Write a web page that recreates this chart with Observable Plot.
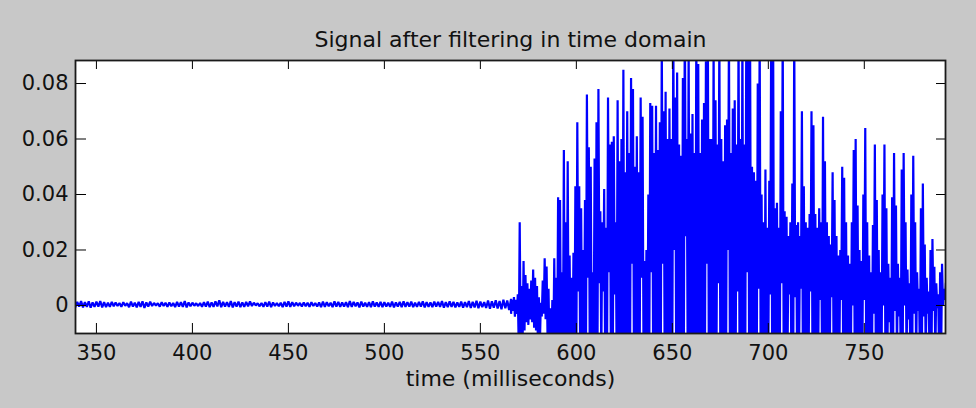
<!DOCTYPE html>
<html><head><meta charset="utf-8">
<script src="https://cdn.jsdelivr.net/npm/d3@7"></script>
<script src="https://cdn.jsdelivr.net/npm/@observablehq/plot@0.6"></script>
<style>
html,body{margin:0;padding:0;background:#c8c8c8;}
#chart{width:976px;height:408px;}
</style></head><body><div id="chart"></div>
<script>
const title = "Signal after filtering in time domain";
const xLabel = "time (milliseconds)";
const xTicks = [350, 400, 450, 500, 550, 600, 650, 700, 750];
const yTicks = [0, 0.02, 0.04, 0.06, 0.08];
const yTickLabels = ["0", "0.02", "0.04", "0.06", "0.08"];
const xDomain = [339.1, 792.3];
const yDomain = [-0.0101, 0.0883];

// quiet part: min / max of the signal in 2 ms bins, starting at 339 ms
const quietStart = 339, quietStep = 2;
const quietMax = [
0.0013,0.0016,0.0012,0.0015,0.0011,0.0014,0.0016,0.0012,0.0010,0.0013,
0.0011,0.0009,0.0012,0.0008,0.0014,0.0010,0.0013,0.0015,0.0011,0.0014,
0.0009,0.0008,0.0012,0.0010,0.0011,0.0009,0.0013,0.0012,0.0016,0.0011,
0.0010,0.0008,0.0009,0.0012,0.0014,0.0011,0.0015,0.0019,0.0013,0.0012,
0.0016,0.0012,0.0014,0.0011,0.0013,0.0015,0.0010,0.0008,0.0009,0.0012,
0.0014,0.0011,0.0009,0.0010,0.0013,0.0015,0.0012,0.0010,0.0009,0.0011,
0.0010,0.0012,0.0009,0.0011,0.0014,0.0012,0.0010,0.0015,0.0013,0.0011,
0.0012,0.0016,0.0013,0.0011,0.0014,0.0010,0.0012,0.0015,0.0011,0.0013,
0.0012,0.0010,0.0014,0.0011,0.0013,0.0015,0.0012,0.0014,0.0010,0.0013,
0.0015,0.0012,0.0011,0.0014,0.0013,0.0016,0.0012,0.0015,0.0013,0.0011,
0.0014,0.0012,0.0016,0.0013,0.0017,0.0014,0.0012,0.0018,0.0015,0.0019,
0.0016,0.0021,0.0018,0.0024];
const quietMin = [
-0.0006,-0.0004,-0.0007,-0.0005,-0.0008,-0.0005,-0.0004,-0.0007,-0.0006,-0.0005,
-0.0003,-0.0002,-0.0005,-0.0001,-0.0006,-0.0004,-0.0007,-0.0005,-0.0009,-0.0004,
-0.0002,0.0000,-0.0004,-0.0002,-0.0005,-0.0003,-0.0006,-0.0004,-0.0005,-0.0007,
-0.0003,-0.0001,-0.0002,-0.0005,-0.0004,-0.0006,-0.0005,-0.0003,-0.0006,-0.0004,
-0.0005,-0.0007,-0.0004,-0.0006,-0.0005,-0.0003,-0.0002,0.0000,-0.0003,-0.0005,
-0.0004,-0.0006,-0.0002,-0.0003,-0.0006,-0.0004,-0.0005,-0.0003,-0.0001,-0.0004,
-0.0003,-0.0005,-0.0002,-0.0004,-0.0006,-0.0005,-0.0003,-0.0006,-0.0004,-0.0005,
-0.0004,-0.0006,-0.0005,-0.0003,-0.0007,-0.0004,-0.0005,-0.0006,-0.0004,-0.0005,
-0.0006,-0.0004,-0.0005,-0.0007,-0.0004,-0.0006,-0.0005,-0.0004,-0.0006,-0.0005,
-0.0004,-0.0007,-0.0005,-0.0006,-0.0004,-0.0005,-0.0008,-0.0006,-0.0005,-0.0007,
-0.0005,-0.0008,-0.0006,-0.0009,-0.0007,-0.0010,-0.0006,-0.0009,-0.0012,-0.0008,
-0.0011,-0.0014,-0.0010,-0.0016];

// voiced part: min / max of the signal in 1 ms bins, starting at 566 ms
const activeStart = 566, activeStep = 1;
const activeMax = [
0.002,0.003,0.002,0.004,0.030,0.007,0.016,0.011,0.008,0.006,
0.009,0.013,0.010,0.007,0.003,0.001,0.009,0.017,0.014,0.006,
-0.001,0.002,0.017,0.010,0.039,0.038,0.012,0.056,0.030,0.052,
0.018,0.010,0.019,0.043,0.066,0.043,0.035,0.020,0.038,0.076,
0.057,0.050,0.012,0.053,0.066,0.078,0.034,0.030,0.042,0.028,
0.075,0.058,0.059,0.061,0.030,0.074,0.052,0.060,0.085,0.048,
0.070,0.055,0.082,0.078,0.050,0.061,0.048,0.075,0.068,0.016,
0.020,0.040,0.073,0.072,0.055,0.072,0.056,0.066,0.095,0.070,
0.077,0.060,0.071,0.060,0.100,0.075,0.084,0.058,0.054,0.082,
0.110,0.060,0.095,0.062,0.069,0.055,0.100,0.087,0.055,0.067,
0.073,0.088,0.100,0.060,0.060,0.095,0.074,0.058,0.100,0.060,
0.052,0.065,0.067,0.100,0.055,0.071,0.074,0.058,0.100,0.060,
0.100,0.058,0.095,0.100,0.098,0.050,0.048,0.045,0.080,0.100,
0.040,0.030,0.049,0.028,0.045,0.100,0.100,0.035,0.037,0.028,
0.070,0.100,0.034,0.032,0.025,0.030,0.044,0.100,0.029,0.030,
0.025,0.070,0.043,0.030,0.028,0.033,0.070,0.065,0.033,0.028,
0.035,0.030,0.068,0.052,0.030,0.025,0.022,0.048,0.038,0.025,
0.018,0.020,0.050,0.046,0.030,0.018,0.015,0.030,0.056,0.060,
0.036,0.020,0.016,0.040,0.064,0.030,0.018,0.012,0.029,0.058,
0.038,0.020,0.012,0.040,0.058,0.035,0.015,0.010,0.039,0.055,
0.036,0.015,0.010,0.049,0.055,0.030,0.013,0.008,0.040,0.054,
0.030,0.012,0.006,0.035,0.044,0.022,0.010,0.005,0.020,0.024,
0.014,0.008,0.004,0.012,0.015,0.006,0.008];
const activeMin = [
-0.003,-0.002,-0.004,-0.003,-0.015,-0.015,-0.013,-0.009,-0.006,-0.007,
-0.005,-0.006,-0.008,-0.009,-0.015,-0.014,-0.004,-0.003,-0.005,-0.011,
-0.016,-0.015,-0.016,-0.02,-0.02,-0.02,-0.02,-0.02,-0.02,-0.02,
-0.02,-0.02,-0.02,-0.02,-0.02,0.005,-0.02,-0.02,-0.02,-0.02,
0.010,-0.02,-0.02,-0.02,-0.02,-0.02,0.008,-0.02,0.005,-0.02,
-0.02,0.012,-0.02,-0.02,0.004,-0.02,-0.02,-0.02,-0.02,-0.02,
-0.02,-0.02,-0.02,0.015,-0.02,-0.02,-0.02,-0.02,0.010,-0.02,
-0.02,-0.02,-0.02,0.012,-0.02,-0.02,-0.02,-0.02,-0.02,0.015,
-0.02,-0.02,-0.02,-0.02,-0.02,0.020,-0.02,-0.02,-0.02,-0.02,
-0.02,0.025,-0.02,-0.02,-0.02,-0.02,-0.02,-0.02,-0.02,-0.02,
-0.02,-0.02,0.015,-0.02,-0.02,-0.02,-0.02,-0.02,0.008,-0.02,
-0.02,-0.02,-0.02,0.020,-0.02,-0.02,-0.02,-0.02,0.005,-0.02,
-0.02,-0.02,-0.02,0.012,-0.02,-0.02,-0.02,-0.02,-0.02,0.006,
-0.02,-0.02,-0.02,-0.02,-0.02,0.004,-0.02,-0.02,-0.02,-0.02,
-0.02,0.008,-0.02,-0.02,-0.02,0.004,-0.02,-0.02,0.003,-0.02,
-0.02,0.006,-0.02,-0.02,-0.02,-0.02,0.005,-0.02,-0.02,-0.02,
-0.02,0.002,-0.02,-0.02,-0.02,-0.02,-0.02,0.003,-0.02,-0.02,
-0.02,-0.02,0.002,-0.02,-0.02,-0.02,-0.02,-0.02,0.000,-0.02,
-0.02,-0.02,-0.02,-0.02,0.002,-0.02,-0.02,-0.02,-0.02,-0.003,
-0.02,-0.02,-0.02,-0.02,0.000,-0.02,-0.02,-0.006,-0.02,-0.02,
-0.002,-0.02,-0.004,-0.02,-0.02,0.000,-0.02,-0.005,-0.02,-0.02,
-0.003,-0.02,-0.002,-0.02,-0.02,-0.004,-0.02,-0.003,-0.02,-0.02,
-0.002,-0.02,-0.001,-0.02,-0.02,0.000,0.002];

// polyline through the min/max of each bin
const samples = [];
quietMax.forEach((mx, i) => {
  const t = quietStart + i * quietStep;
  samples.push({t, v: quietMin[i]}, {t: t + quietStep / 2, v: mx});
});
activeMax.forEach((mx, i) => {
  const t = activeStart + i * activeStep;
  samples.push({t, v: activeMin[i]}, {t: t + activeStep / 2, v: mx});
});

const W = 976, H = 408, mL = 75, mR = 31, mT = 60, mB = 75;
const fh = H - mT - mB, fw = W - mL - mR;

const chart = Plot.plot({
  width: W, height: H,
  marginLeft: mL, marginRight: mR, marginTop: mT, marginBottom: mB,
  style: {background: "transparent", fontFamily: "'DejaVu Sans', sans-serif", fontSize: "21px", color: "#111"},
  x: {domain: xDomain},
  y: {domain: yDomain},
  marks: [
    Plot.frame({fill: "white"}),
    Plot.line(samples, {x: "t", y: "v", stroke: "#0000ff", strokeWidth: 2.2, strokeLinejoin: "miter", clip: true}),
    Plot.tickX(xTicks, {x: d => d, insetTop: fh - 10, stroke: "#000"}),
    Plot.tickX(xTicks, {x: d => d, insetBottom: fh - 9, stroke: "#000"}),
    Plot.tickY(yTicks, {y: d => d, insetRight: fw - 11, stroke: "#000"}),
    Plot.tickY(yTicks, {y: d => d, insetLeft: fw - 9, stroke: "#000"}),
    Plot.frame({stroke: "#1a1a1a", strokeWidth: 1.8}),
    Plot.axisX(xTicks, {tickSize: 0, tickPadding: 12, label: null, fontSize: 21, fill: "#111"}),
    Plot.axisY(yTicks, {tickSize: 0, tickPadding: 7, label: null, fontSize: 21, fill: "#111",
      tickFormat: d => yTickLabels[yTicks.indexOf(d)]}),
    Plot.text([title], {frameAnchor: "top", dy: -29, text: d => d, fontSize: 22, fill: "#111"}),
    Plot.text([xLabel], {frameAnchor: "bottom", dy: 52, text: d => d, fontSize: 22, fill: "#111"})
  ]
});
document.getElementById("chart").appendChild(chart);
</script>
</body></html>
